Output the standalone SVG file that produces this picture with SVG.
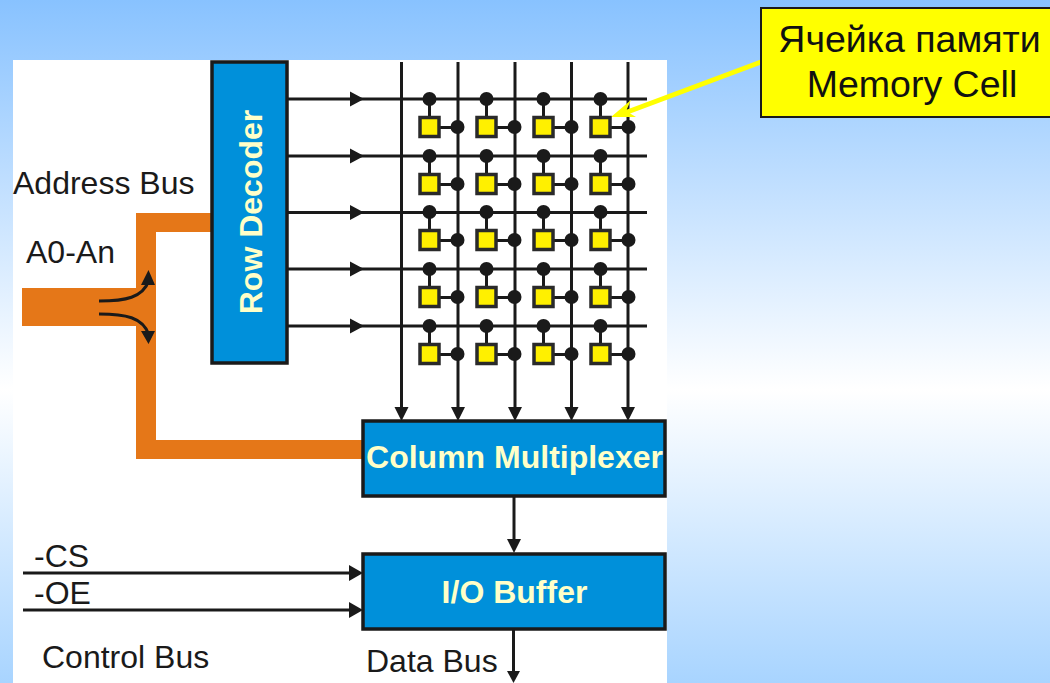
<svg xmlns="http://www.w3.org/2000/svg" xmlns:xlink="http://www.w3.org/1999/xlink" width="1050" height="683" viewBox="0 0 1050 683">
<style>
.lbl{font-family:"Liberation Sans",Arial,sans-serif;font-size:32px;fill:#1a1a1a}
.blk{fill:#0090da;stroke:#1a1a1a;stroke-width:3.5}
.blt{font-family:"Liberation Sans",Arial,sans-serif;font-weight:bold;font-size:32px;fill:#ffffc8;text-anchor:middle}
.w{fill:none;stroke:#1a1a1a;stroke-width:3}
.cell{fill:#fff000;stroke:#2a2a2a;stroke-width:3.500}
.dot{fill:#1a1a1a}
.head{fill:#1a1a1a}
.cal{font-family:"Liberation Sans",Arial,sans-serif;font-size:37.500px;fill:#111;text-anchor:middle}
</style>
<defs>
<linearGradient id="bg" x1="0" y1="0" x2="0" y2="1">
<stop offset="0" stop-color="#88c2ff"/><stop offset="0.57" stop-color="#ffffff"/><stop offset="1" stop-color="#a8d4ff"/>
</linearGradient>
<g id="u">
<path class="w" d="M429.500 0V28.500H457.500"/>
<circle class="dot" cx="429.500" cy="0" r="7"/>
<circle class="dot" cx="457.500" cy="28" r="7"/>
<rect class="cell" x="420" y="18.500" width="19" height="19"/>
</g>
<g id="row">
<use xlink:href="#u" href="#u"/>
<use xlink:href="#u" href="#u" x="57"/>
<use xlink:href="#u" href="#u" x="114"/>
<use xlink:href="#u" href="#u" x="171"/>
</g>
</defs>
<rect width="1050" height="683" fill="url(#bg)"/>
<rect x="13" y="60" width="654" height="623" fill="#fff"/>
<g id="connectors">
<path d="M22 288H136V213H212V232H156V440H362V459H136V326H22Z" fill="#e57718"/>
<path class="w" d="M99 301C125 301 143 298 149 280M99 314C125 314 143 317 149 335"/>
<path class="head" d="M148.500 270L155 285H141ZM148.500 344L155 331H141Z"/>
<path class="w" d="M401.500 62V408M458 62V408M515 62V408M571.500 62V408M628 62V408"/>
<path class="head" d="M394.500 407H408.500L401.500 421ZM451 407H465L458 421ZM508 407H522L515 421ZM564.500 407H578.500L571.500 421ZM621 407H635L628 421Z"/>
<path class="w" d="M288 99H647M288 156H647M288 212.500H647M288 269H647M288 326H647"/>
<path class="head" d="M350 91.500L364 99L350 106.500ZM350 148.500L364 156L350 163.500ZM350 205L364 212.500L350 220ZM350 261.500L364 269L350 276.500ZM350 318.500L364 326L350 333.500Z"/>
<path class="w" d="M514 497V541"/>
<path class="head" d="M507 539H521L514 553Z"/>
<path class="w" d="M23 573H350M23 610H350"/>
<path class="head" d="M349 565L363 573L349 581ZM349 602L363 610L349 618Z"/>
<path class="w" d="M513.500 630V672"/>
<path class="head" d="M507 671H520L513.500 683Z"/>
<path d="M761 62L622 114" stroke="#ffff00" stroke-width="5" fill="none"/>
<path d="M611 117L631 100L626 111L636 117Z" fill="#ffff00"/>
</g>
<g id="cells">
<use xlink:href="#row" href="#row" y="99"/>
<use xlink:href="#row" href="#row" y="156"/>
<use xlink:href="#row" href="#row" y="212"/>
<use xlink:href="#row" href="#row" y="269"/>
<use xlink:href="#row" href="#row" y="326"/>
</g>
<g id="row-decoder">
<rect class="blk" x="212" y="62" width="75" height="301"/>
<text class="blt" transform="translate(262 212) rotate(-90)">Row Decoder</text>
</g>
<g id="column-mux">
<rect class="blk" x="363" y="421" width="302" height="75"/>
<text class="blt" x="514.500" y="468">Column Multiplexer</text>
</g>
<g id="io-buffer">
<rect class="blk" x="363" y="554" width="302" height="75"/>
<text class="blt" x="514.500" y="603">I/O Buffer</text>
</g>
<g id="callout">
<rect x="761" y="8" width="295" height="109" fill="#ffff00" stroke="#1a1a1a" stroke-width="2"/>
<text class="cal" x="909.500" y="52">Ячейка памяти</text>
<text class="cal" x="912" y="97">Memory Cell</text>
</g>
<g id="labels">
<text class="lbl" x="13" y="194">Address Bus</text>
<text class="lbl" x="26" y="263">A0-An</text>
<text class="lbl" x="34" y="567">-CS</text>
<text class="lbl" x="34" y="604">-OE</text>
<text class="lbl" x="42" y="668">Control Bus</text>
<text class="lbl" x="366" y="672">Data Bus</text>
</g>
</svg>
